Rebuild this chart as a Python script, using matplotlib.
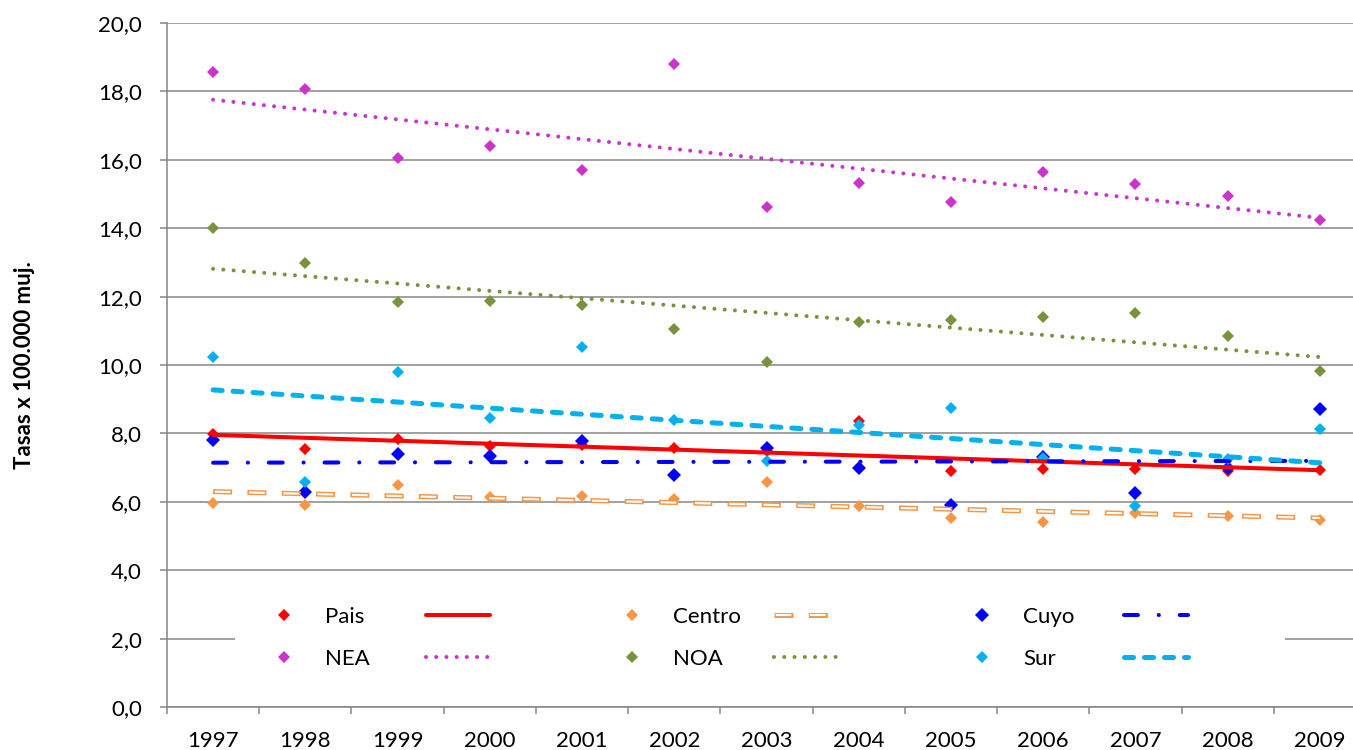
import matplotlib
matplotlib.use('Agg')
import matplotlib.pyplot as plt
import numpy as np
from matplotlib import ticker
from matplotlib.legend import Legend
from matplotlib.patches import Rectangle

plt.rcParams['font.family'] = ['Lato', 'DejaVu Sans']
plt.rcParams['lines.scale_dashes'] = False

# Tasas x 100.000 mujeres, por region
years = ['1997', '1998', '1999', '2000', '2001', '2002', '2003',
         '2004', '2005', '2006', '2007', '2008', '2009']
pais = [7.98, 7.53, 7.85, 7.63, 7.66, 7.56, 7.48, 8.36, 6.91, 6.97, 6.95, 6.91, 6.93]
centro = [5.97, 5.92, 6.49, 6.13, 6.17, 6.09, 6.58, 5.87, 5.52, 5.41, 5.66, 5.59, 5.46]
cuyo = [7.82, 6.28, 7.41, 7.34, 7.79, 6.78, 7.58, 7.00, 5.92, 7.30, 6.27, 7.00, 8.72]
nea = [18.57, 18.07, 16.04, 16.40, 15.70, 18.81, 14.62, 15.31, 14.77, 15.63, 15.28, 14.94, 14.23]
noa = [14.02, 12.99, 11.83, 11.86, 11.75, 11.06, 10.10, 11.26, 11.33, 11.40, 11.53, 10.85, 9.82]
sur = [10.24, 6.58, 9.80, 8.46, 10.52, 8.39, 7.20, 8.24, 8.73, 7.27, 5.88, 7.24, 8.13]

GRID = '#868686'
c_pais, c_centro, c_cuyo = '#FF0000', '#F79646', '#0000FF'
c_nea, c_noa, c_sur = '#CC33CC', '#77933C', '#00B0F0'

fig = plt.figure(figsize=(13.53, 7.5), dpi=100)
# plot area runs past the right edge of the picture, like the original
ax = fig.add_axes([167 / 1353, 43 / 750, 1199 / 1353, 684 / 750])

x = np.arange(len(years))


def trend(vals):
    # linear trend line, same as Excel "Lineal"
    k, b = np.polyfit(x, vals, 1)
    return k * x + b


# markers
m_pais, = ax.plot(x, pais, 'D', color=c_pais, ms=6.0, mew=0, zorder=3)
m_centro, = ax.plot(x, centro, 'D', color=c_centro, ms=6.6, mew=0, zorder=3)
m_cuyo, = ax.plot(x, cuyo, 'D', color=c_cuyo, ms=7.2, mew=0, zorder=3)
m_nea, = ax.plot(x, nea, 'D', color=c_nea, ms=6.5, mew=0, zorder=3)
m_noa, = ax.plot(x, noa, 'D', color=c_noa, ms=6.6, mew=0, zorder=3)
m_sur, = ax.plot(x, sur, 'D', color=c_sur, ms=6.5, mew=0, zorder=3)

# trend lines
l_pais, = ax.plot(x, trend(pais), color=c_pais, lw=2.9,
                  solid_capstyle='round', zorder=4)

# hollow dashes: orange dash with a thinner white dash on top
l_centro_o, = ax.plot(x, trend(centro), color=c_centro, lw=3.6,
                      linestyle=(0, (13.7, 11)), dash_capstyle='butt', zorder=4)
l_centro_w, = ax.plot(x, trend(centro), color='white', lw=1.5,
                      linestyle=(23.5, (11.3, 13.4)), dash_capstyle='butt',
                      zorder=4)

l_cuyo, = ax.plot(x, trend(cuyo), color=c_cuyo, lw=2.9,
                  linestyle=(0, (10, 15, 0.1, 15)), dash_capstyle='round',
                  zorder=4)
l_nea, = ax.plot(x, trend(nea), color=c_nea, lw=2.9,
                 linestyle=(0, (0.01, 7.34)), dash_capstyle='round', zorder=4)
l_noa, = ax.plot(x, trend(noa), color=c_noa, lw=2.9,
                 linestyle=(0, (0.01, 7.38)), dash_capstyle='round', zorder=4)
l_sur, = ax.plot(x, trend(sur), color=c_sur, lw=3.6,
                 linestyle=(0, (6.5, 7.9)), dash_capstyle='round', zorder=5)

# axes styling
ax.set_xlim(-0.5, len(years) - 0.5)
ax.set_ylim(0, 20)
ax.set_yticks(np.arange(0, 21, 2))
ax.yaxis.set_major_formatter(
    ticker.FuncFormatter(lambda v, pos: f'{v:.1f}'.replace('.', ','))
)
ax.set_xticks(x)
ax.set_xticklabels(years)
ax.set_xticks(np.arange(-0.5, len(years), 1), minor=True)

ax.set_axisbelow(True)
ax.yaxis.grid(True, color=GRID, lw=1.1)
for side in ['top', 'right']:
    ax.spines[side].set_visible(False)
for side in ['left', 'bottom']:
    ax.spines[side].set_color(GRID)
    ax.spines[side].set_linewidth(1.1)

ax.tick_params(axis='y', which='major', length=5, width=1.1, color=GRID,
               pad=13, labelsize=16)
ax.tick_params(axis='x', which='major', length=0, pad=17, labelsize=16)
ax.tick_params(axis='x', which='minor', length=5, width=1.1, color=GRID)

ax.set_ylabel('Tasas x 100.000 muj.', fontsize=16, fontweight='bold')
ax.yaxis.set_label_coords((35 - 167) / 1199, 0.5)

# white block behind the legend hides the 2,0 gridline there
ax.add_patch(Rectangle(((235 - 167) / 1199, 0.032), (1285 - 235) / 1199, 0.139,
                       transform=ax.transAxes, facecolor='white',
                       edgecolor='none', zorder=1))


# legend: three groups (marker + name, then the trend line), two rows each
def legend_group(markers, lines, names, left_px, spacing):
    leg = Legend(ax, markers + lines, names + ['', ''], ncol=2,
                 frameon=False, fontsize=16, handlelength=2.88,
                 handletextpad=0.4, columnspacing=spacing,
                 labelspacing=1.0, borderpad=0, numpoints=1,
                 loc='center left',
                 bbox_to_anchor=(left_px / 1353, 1 - 638 / 750),
                 bbox_transform=fig.transFigure)
    leg.set_zorder(6)
    ax.add_artist(leg)


legend_group([m_pais, m_nea], [l_pais, l_nea], ['Pais', 'NEA'], 241, 2.52)
legend_group([m_centro, m_noa], [(l_centro_o, l_centro_w), l_noa],
             ['Centro', 'NOA'], 589, 1.49)
legend_group([m_cuyo, m_sur], [l_cuyo, l_sur], ['Cuyo', 'Sur'], 939, 2.25)

plt.savefig('out.png', dpi=100)
